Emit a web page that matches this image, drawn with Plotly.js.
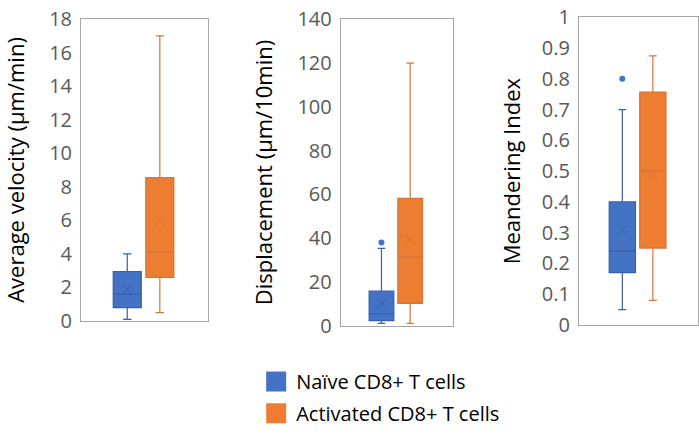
<!DOCTYPE html>
<html>
<head>
<meta charset="utf-8">
<script src="https://cdn.plot.ly/plotly-3.0.1.min.js"></script>
<style>html,body{margin:0;padding:0;background:#fff}#chart{width:699px;height:434px}</style>
</head>
<body>
<div id="chart"></div>
<script>
// ---- data ----
const groups = ['Naïve CD8+ T cells', 'Activated CD8+ T cells'];
const metrics = ['Average velocity (µm/min)', 'Displacement (µm/10min)', 'Meandering Index'];

// per metric: [naive, activated]
const lowerFence = [[0.1, 0.5], [1.1, 1.1], [0.05, 0.08]];
const q1Values   = [[0.8, 2.6], [2.3, 10.2], [0.17, 0.25]];
const medians    = [[1.6, 4.1], [5.5, 31.4], [0.24, 0.50]];
const q3Values   = [[2.95, 8.55], [15.8, 58.2], [0.40, 0.757]];
const upperFence = [[4.0, 17.0], [35.3, 120], [0.70, 0.875]];
const means      = [[1.9, 6.0], [10.2, 39.4], [0.31, 0.485]];
const outliers   = [[[], []], [[38], []], [[0.80], []]];

const yMax   = [18, 140, 1];
const yDtick = [2, 20, 0.1];

// ---- styles ----
const fills = ['#4472C4', '#ED7D31'];
const lines = ['#3660AA', '#D8733A'];
const FONT = '"Open Sans", "Noto Sans", sans-serif';

const xDomains = [[0.1159, 0.2976], [0.4874, 0.6476], [0.8283, 0.9986]];
const yDomains = [[0.2604, 0.9562], [0.2495, 0.9555], [0.2512, 0.9601]];
const standoffs = [21, 18, 15];

const traces = [];
const layout = {
  width: 699, height: 434,
  margin: {l: 0, r: 0, t: 0, b: 0},
  paper_bgcolor: '#fff', plot_bgcolor: '#fff',
  font: {family: FONT},
  showlegend: true,
  legend: {x: 0.3665, y: 0.121, xanchor: 'left', yanchor: 'middle', bgcolor: 'rgba(0,0,0,0)',
           font: {family: FONT, size: 20, color: '#000'}},
  legend2: {x: 0.3665, y: 0.0477, xanchor: 'left', yanchor: 'middle', bgcolor: 'rgba(0,0,0,0)',
           font: {family: FONT, size: 20, color: '#000'}}
};

metrics.forEach((m, i) => {
  const xa = i === 0 ? 'x' : 'x' + (i + 1);
  const ya = i === 0 ? 'y' : 'y' + (i + 1);
  groups.forEach((g, j) => {
    traces.push({
      type: 'box', xaxis: xa, yaxis: ya, name: g, showlegend: false,
      x: [g], q1: [q1Values[i][j]], median: [medians[i][j]], q3: [q3Values[i][j]],
      lowerfence: [lowerFence[i][j]], upperfence: [upperFence[i][j]],
      boxpoints: false, width: 0.86, whiskerwidth: 0.3,
      fillcolor: fills[j], line: {color: lines[j], width: 1.2},
      hoverinfo: 'skip'
    });
    traces.push({
      type: 'scatter', mode: 'markers', xaxis: xa, yaxis: ya, showlegend: false,
      x: [g], y: [means[i][j]],
      marker: {symbol: 'x-thin-open', size: 10, line: {color: lines[j], width: 1}, color: lines[j]},
      hoverinfo: 'skip'
    });
    if (outliers[i][j].length) {
      traces.push({
        type: 'scatter', mode: 'markers', xaxis: xa, yaxis: ya, showlegend: false,
        x: outliers[i][j].map(() => g), y: outliers[i][j],
        marker: {symbol: 'circle', size: 6, color: fills[j]},
        hoverinfo: 'skip'
      });
    }
  });
  const sfx = i === 0 ? '' : String(i + 1);
  layout['xaxis' + sfx] = {
    domain: xDomains[i], anchor: ya, type: 'category', categoryarray: groups,
    range: [-1.42, 2.48], showticklabels: false, ticks: '', showgrid: false, zeroline: false,
    showline: true, mirror: true, linecolor: '#A6A6A6', linewidth: 1, fixedrange: true
  };
  layout['yaxis' + sfx] = {
    domain: yDomains[i], anchor: xa, range: [0, yMax[i]], dtick: yDtick[i], tick0: 0,
    showgrid: false, zeroline: false, showline: true, mirror: true,
    linecolor: '#A6A6A6', linewidth: 1, ticks: '', ticklabelstandoff: 4,
    tickfont: {family: FONT, size: 20, color: '#595959'},
    title: {text: m, font: {family: FONT, size: 22, color: '#000'}, standoff: standoffs[i]},
    fixedrange: true
  };
});

// legend entries
groups.forEach((g, j) => {
  traces.push({
    type: 'scatter', mode: 'markers', x: [null], y: [null], name: g,
    legend: j === 0 ? 'legend' : 'legend2', showlegend: true,
    marker: {symbol: 'square', size: 16, color: fills[j], line: {color: fills[j], width: 4}},
    hoverinfo: 'skip'
  });
});

Plotly.newPlot('chart', traces, layout, {displayModeBar: false, staticPlot: true});
</script>
</body>
</html>
